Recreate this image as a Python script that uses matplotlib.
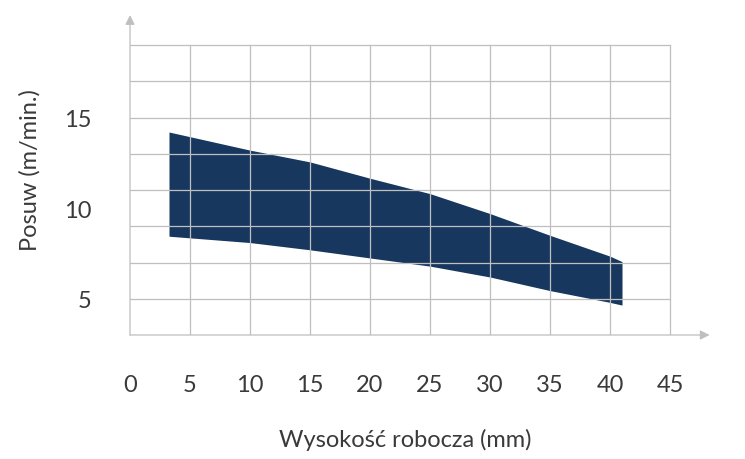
import numpy as np
import matplotlib
matplotlib.use("Agg")
import matplotlib.pyplot as plt

plt.rcParams['font.family'] = ['Lato', 'DejaVu Sans']

# working height (mm) vs feed range (m/min.)
height_mm = [3.25, 10, 15, 20, 25, 30, 35, 40, 41]
feed_max = [14.2, 13.2, 12.55, 11.65, 10.8, 9.7, 8.5, 7.35, 7.05]
feed_min = [8.45, 8.1, 7.7, 7.25, 6.8, 6.2, 5.45, 4.8, 4.65]

x_ticks = [0, 5, 10, 15, 20, 25, 30, 35, 40, 45]
y_ticks = [5, 10, 15]
y_grid = [5, 7, 9, 11, 13, 15, 17, 19]

grid_col = '#BFBFBF'
text_col = '#3A3A3A'
fill_col = '#17375E'

fig = plt.figure(figsize=(7.45, 4.6), dpi=100)
ax = fig.add_axes([130 / 745, (460 - 336) / 460, 590.4 / 745, 326.25 / 460])
ax.set_xlim(0, 49.2)
ax.set_ylim(3, 21)

ax.fill_between(height_mm, feed_min, feed_max, color=fill_col, lw=0, zorder=1)

# grid drawn over the band, like the original
for x in x_ticks[1:]:
    ax.plot([x, x], [3, 19], color=grid_col, lw=0.9, zorder=2)
for y in y_grid:
    ax.plot([0, 45], [y, y], color=grid_col, lw=0.9, zorder=2)

# axes with arrow heads
arrow = dict(arrowstyle='-|>', color=grid_col, lw=0.9, mutation_scale=14,
             shrinkA=0, shrinkB=0)
ax.annotate('', xy=(48.3, 3), xytext=(0, 3), arrowprops=arrow, zorder=3)
ax.annotate('', xy=(0, 20.65), xytext=(0, 3), arrowprops=arrow, zorder=3)

for s in ax.spines.values():
    s.set_visible(False)
ax.set_xticks(x_ticks)
ax.set_yticks(y_ticks)
ax.tick_params(length=0, labelsize=17, labelcolor=text_col)
ax.tick_params(axis='x', pad=28)
ax.tick_params(axis='y', pad=28)

fig.text(405 / 745, 1 - 440 / 460, 'Wysokość robocza (mm)', ha='center', va='center',
         fontsize=17, color=text_col)
fig.text(30 / 745, 1 - 170 / 460, 'Posuw (m/min.)', ha='center', va='center',
         rotation=90, fontsize=17, color=text_col)

fig.savefig('out.png', dpi=100, facecolor='white')
